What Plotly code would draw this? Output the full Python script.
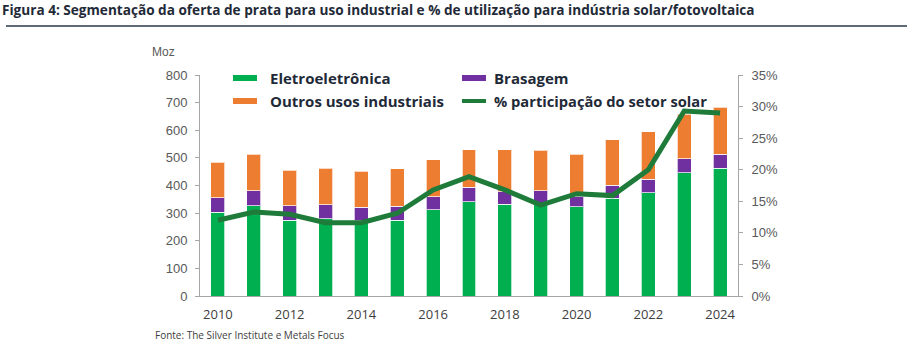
import plotly.graph_objects as go

anos = list(range(2010, 2025))
eletroeletronica = [303, 327, 274, 279, 272, 274, 312, 341, 332, 335, 324, 353, 373, 446, 462]
brasagem = [52, 54, 52, 52, 50, 51, 47, 52, 46, 46, 38, 48, 49, 51, 51]
outros = [130, 133, 130, 132, 130, 136, 134, 137, 151, 146, 152, 165, 172, 161, 170]
solar_pct = [12.0, 13.3, 12.95, 11.6, 11.6, 13.1, 16.8, 18.9, 16.8, 14.4, 16.2, 15.9, 20.0, 29.3, 29.0]

left_ticks = [0, 100, 200, 300, 400, 500, 600, 700, 800]
right_ticks = [0, 5, 10, 15, 20, 25, 30, 35]
x_ticks = [2010, 2012, 2014, 2016, 2018, 2020, 2022, 2024]

C_GREEN = "#00b050"
C_PURPLE = "#7030a0"
C_ORANGE = "#ed7d31"
C_LINE = "#1e7b3a"
C_AXIS = "#a6a6a6"
C_TICK = "#595959"
C_LEG = "#1f2a38"

edge = dict(color="rgba(255,255,255,0.7)", width=1)

fig = go.Figure()
fig.add_bar(x=anos, y=eletroeletronica, name="Eletroeletrônica", marker=dict(color=C_GREEN, line=edge))
fig.add_bar(x=anos, y=brasagem, name="Brasagem", marker=dict(color=C_PURPLE, line=edge))
fig.add_bar(x=anos, y=outros, name="Outros usos industriais", marker=dict(color=C_ORANGE, line=edge))
fig.add_scatter(x=anos, y=solar_pct, name="% participação do setor solar", yaxis="y2",
                mode="lines", line=dict(color=C_LINE, width=5))

fig.update_layout(
    width=907, height=347,
    margin=dict(l=200, r=169, t=75, b=51),
    paper_bgcolor="white", plot_bgcolor="white",
    barmode="stack", bargap=0.61,
    showlegend=False,
    xaxis=dict(range=[2009.5, 2024.5], tickvals=x_ticks, ticks="", showgrid=False,
               showline=True, linecolor=C_AXIS, linewidth=1, zeroline=False,
               ticklabelstandoff=6,
               tickfont=dict(family="Open Sans", size=13, color="#404040")),
    yaxis=dict(range=[0, 800], tickvals=left_ticks, showgrid=False, zeroline=False,
               showline=True, linecolor=C_AXIS, linewidth=1, ticks="outside", ticklen=4,
               ticklabelstandoff=5,
               tickcolor=C_AXIS, tickfont=dict(family="Liberation Sans", size=13, color=C_TICK)),
    yaxis2=dict(range=[0, 35], tickvals=right_ticks, ticktext=[f"{v}%" for v in right_ticks],
                overlaying="y", side="right", showgrid=False, zeroline=False,
                showline=True, linecolor=C_AXIS, linewidth=1, ticks="outside", ticklen=4,
                ticklabelstandoff=6,
                tickcolor=C_AXIS, tickfont=dict(family="Liberation Sans", size=13, color=C_TICK)),
)

# Title with rule underneath
fig.add_annotation(text="<b>Figura 4: Segmentação da oferta de prata para uso industrial e % de utilização para indústria solar/fotovoltaica</b>",
                   xref="paper", yref="paper", x=-200/538, y=1 + 65/221, xanchor="left", yanchor="middle",
                   showarrow=False, font=dict(family="Open Sans", size=13.6, color="#1f2a38"))
fig.add_shape(type="line", xref="paper", yref="paper", x0=-194/538, x1=707/538,
              y0=1 + 49/221, y1=1 + 49/221, line=dict(color="#5f6b78", width=2))

# Axis unit
fig.add_annotation(text="Moz", xref="paper", yref="paper", x=-50/538, y=1 + 23/221,
                   xanchor="left", yanchor="middle", showarrow=False,
                   font=dict(family="Liberation Sans", size=12, color=C_TICK))

# Source note
fig.add_annotation(text="Fonte: The Silver Institute e Metals Focus", xref="paper", yref="paper",
                   x=-47/538, y=-39/221, xanchor="left", yanchor="middle", showarrow=False,
                   font=dict(family="Open Sans", size=10, color="#404040"))

# Legend drawn in two columns
legend_items = [
    ("Eletroeletrônica", C_GREEN, "box", 33, 3, 35, 15),
    ("Outros usos industriais", C_ORANGE, "box", 33, 26, 35, 15),
    ("Brasagem", C_PURPLE, "box", 262, 3, 30, 15),
    ("% participação do setor solar", C_LINE, "line", 262, 26, 30, 14.7),
]
for label, color, kind, px, py, gap, fsize in legend_items:
    x0 = px / 538
    x1 = (px + 24) / 538
    yc = 1 - py / 221
    if kind == "box":
        fig.add_shape(type="rect", xref="paper", yref="paper", x0=x0, x1=x1,
                      y0=yc - 3 / 221, y1=yc + 3 / 221, fillcolor=color, line=dict(width=0))
    else:
        fig.add_shape(type="line", xref="paper", yref="paper", x0=x0, x1=x1,
                      y0=yc, y1=yc, line=dict(color=color, width=4))
    fig.add_annotation(text=f"<b>{label}</b>", xref="paper", yref="paper",
                       x=(px + gap) / 538, y=yc, xanchor="left", yanchor="middle", showarrow=False,
                       font=dict(family="Open Sans", size=fsize, color=C_LEG))

fig.write_html("out.html")
